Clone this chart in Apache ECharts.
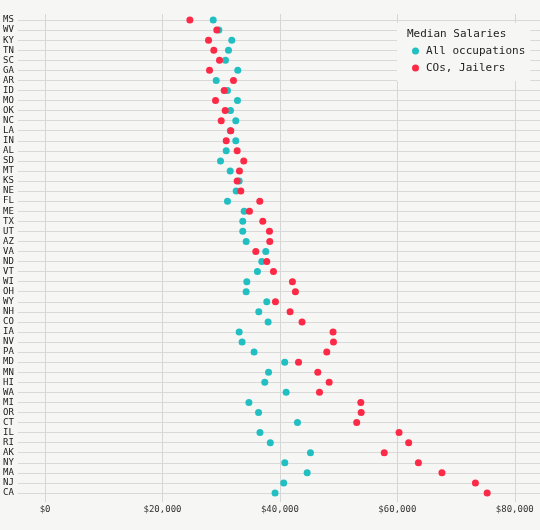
<!DOCTYPE html>
<html>
<head>
<meta charset="utf-8">
<script src="https://cdn.jsdelivr.net/npm/echarts@6/dist/echarts.min.js"></script>
<style>
html,body{margin:0;padding:0;background:#f6f6f4;}
#chart{width:540px;height:530px;}
</style>
</head>
<body>
<div id="chart"></div>
<script>
var states = ['MS','WV','KY','TN','SC','GA','AR','ID','MO','OK','NC','LA','IN','AL','SD','MT','KS','NE','FL','ME','TX','UT','AZ','VA','ND','VT','WI','OH','WY','NH','CO','IA','NV','PA','MD','MN','HI','WA','MI','OR','CT','IL','RI','AK','NY','MA','NJ','CA'];
var allOccupations = [28640,29600,31800,31240,30730,32820,29150,31070,32770,31580,32480,31550,32480,30850,29880,31530,33060,32550,31070,33910,33670,33670,34250,37590,36910,36170,34360,34250,37760,36400,37990,33060,33560,35600,40820,38060,37420,41060,34720,36360,42990,36600,38360,45200,40830,44640,40640,39170];
var cosJailers = [24660,29250,27840,28740,29710,28010,32090,30510,29030,30680,30000,31630,30850,32720,33840,33110,32720,33340,36570,34810,37080,38220,38270,35890,37760,38900,42130,42640,39240,41730,43770,49050,49120,47980,43170,46450,48390,46740,53780,53840,53080,60290,61930,57770,63590,67600,73300,75300];
var xTicks = [0,20000,40000,60000,80000];
var seriesNames = ['All occupations','COs, Jailers'];
var legendTitle = 'Median Salaries';

var rowIdx = states.map(function(s,i){return i;});
var mono = 'DejaVu Sans Mono';
var chart = echarts.init(document.getElementById('chart'));
chart.setOption({
  backgroundColor:'#f6f6f4',
  animation:false,
  title:{
    text:legendTitle, left:407, top:28.5, padding:0,
    textStyle:{fontFamily:mono,fontSize:11,fontWeight:'normal',color:'#222'}
  },
  legend:{
    orient:'vertical', left:397, top:23,
    backgroundColor:'#f6f6f4',
    padding:[21,5,6,15],
    itemGap:3, itemWidth:7, itemHeight:7, icon:'circle',
    textStyle:{fontFamily:mono,fontSize:11,color:'#222',lineHeight:14,padding:[0,0,0,2]},
    data:seriesNames
  },
  grid:{left:17,right:0,top:14,bottom:28,containLabel:false},
  xAxis:{
    type:'value', min:-4640, max:84300,
    axisLine:{show:false},
    axisTick:{show:false,customValues:xTicks},
    axisLabel:{customValues:xTicks,margin:3,fontFamily:mono,fontSize:9,color:'#333',
      formatter:function(v){return '$'+v.toLocaleString('en-US');}},
    splitLine:{show:true,lineStyle:{color:'#d6d6d6',width:1}}
  },
  yAxis:{
    type:'value', inverse:true, min:-0.6, max:47.9,
    axisLine:{show:false},
    axisTick:{show:false,customValues:rowIdx},
    axisLabel:{customValues:rowIdx,margin:4,fontFamily:mono,fontSize:9,color:'#1a1a1a',
      formatter:function(v){return states[Math.round(v)];}},
    splitLine:{show:true,lineStyle:{color:'#d9d9d9',width:1.2}}
  },
  series:[
    {name:seriesNames[0],type:'scatter',symbolSize:7,itemStyle:{color:'#22bfc2',opacity:1},
     data:allOccupations.map(function(v,i){return [v,i];})},
    {name:seriesNames[1],type:'scatter',symbolSize:7,itemStyle:{color:'#fd2a47',opacity:1},
     data:cosJailers.map(function(v,i){return [v,i];})}
  ]
});
</script>
</body>
</html>
